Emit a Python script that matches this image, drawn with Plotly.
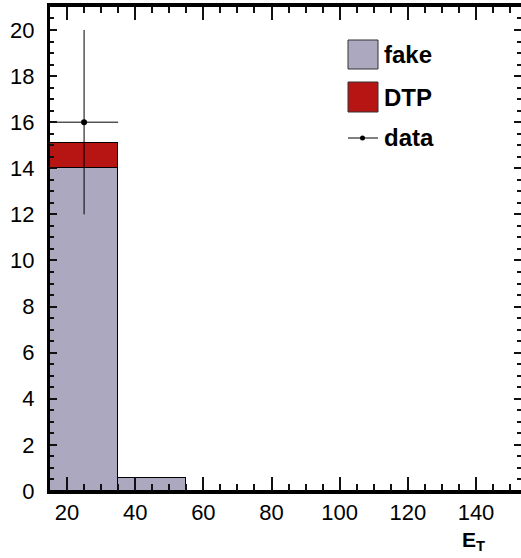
import plotly.graph_objects as go

# ---- data ----
bin_centers = [25, 45, 65, 85, 105, 125, 145]
bin_width = 20
fake_vals = [14.0, 0.55, 0, 0, 0, 0, 0]
dtp_vals = [1.1, 0, 0, 0, 0, 0, 0]
data_vals = [16, 0, 0, 0, 0, 0, 0]
data_err = [4, 0, 0, 0, 0, 0, 0]

FAKE_COLOR = "#aba8c0"
DTP_COLOR = "#b71414"
TICK_COLOR = "#111111"
FONT = "Liberation Sans, Arial, sans-serif"

fig = go.Figure()
fig.add_trace(go.Bar(x=bin_centers, y=fake_vals, width=[bin_width] * len(bin_centers),
                     marker=dict(color=FAKE_COLOR, line=dict(color="black", width=1.2)),
                     name="fake", showlegend=False))
fig.add_trace(go.Bar(x=bin_centers, y=dtp_vals, width=[bin_width] * len(bin_centers),
                     marker=dict(color=DTP_COLOR, line=dict(color="black", width=1.2)),
                     name="DTP", showlegend=False))

dx = [c for c, v in zip(bin_centers, data_vals) if v > 0]
dy = [v for v in data_vals if v > 0]
de = [e for e, v in zip(data_err, data_vals) if v > 0]
fig.add_trace(go.Scatter(x=dx, y=dy, mode="markers",
                         marker=dict(color="black", size=6),
                         error_y=dict(type="data", array=de, color="black", thickness=1, width=0),
                         error_x=dict(type="constant", value=bin_width / 2, color="black", thickness=1, width=0),
                         name="data", showlegend=False))

# ---- manual legend (paper coordinates) ----
L, T, W, H = 50, 6, 471, 485
def px(x):
    return (x - L) / W
def py(y):
    return 1 - (y - T) / H

fig.add_shape(type="rect", xref="paper", yref="paper", x0=px(348), x1=px(378), y0=py(69), y1=py(40),
              fillcolor=FAKE_COLOR, line=dict(color="#333333", width=1))
fig.add_shape(type="rect", xref="paper", yref="paper", x0=px(348), x1=px(378), y0=py(112), y1=py(82),
              fillcolor=DTP_COLOR, line=dict(color="#333333", width=1))
fig.add_shape(type="line", xref="paper", yref="paper", x0=px(348), x1=px(378), y0=py(138), y1=py(138),
              line=dict(color="black", width=1))
fig.add_shape(type="circle", xref="paper", yref="paper", x0=px(360), x1=px(365), y0=py(140.5), y1=py(135.5),
              fillcolor="black", line=dict(color="black", width=0))
for label, yc in [("fake", 55), ("DTP", 97), ("data", 138)]:
    fig.add_annotation(text="<b>" + label + "</b>", xref="paper", yref="paper", x=px(382), y=py(yc),
                       xanchor="left", yanchor="middle", showarrow=False,
                       font=dict(family=FONT, size=24, color="black"))

# top frame line
fig.add_shape(type="line", xref="paper", yref="paper", x0=0, x1=1, y0=1, y1=1,
              line=dict(color="black", width=2))

# x axis title
fig.add_annotation(text="<b>E<sub>T</sub></b>", xref="paper", yref="paper", x=px(460), y=py(526),
                   xanchor="left", yanchor="top", showarrow=False,
                   font=dict(family=FONT, size=21, color="black"))

fig.update_layout(
    width=521, height=558,
    margin=dict(l=L, r=0, t=T, b=558 - T - H, autoexpand=False),
    plot_bgcolor="white", paper_bgcolor="white",
    barmode="stack", bargap=0,
    font=dict(family=FONT, size=22, color="black"),
    showlegend=False,
)
fig.update_xaxes(range=[15, 153.2], tickmode="linear", tick0=0, dtick=20,
                 ticks="inside", ticklen=14, tickwidth=1.5, tickcolor=TICK_COLOR,
                 minor=dict(dtick=5, tick0=0, ticks="inside", ticklen=7, tickwidth=1.5,
                            tickcolor=TICK_COLOR, showgrid=False),
                 showline=True, linewidth=3, linecolor="black", mirror="ticks",
                 showgrid=False, zeroline=False, tickfont=dict(size=22), automargin=False,
                 layer="above traces")
fig.update_yaxes(range=[0, 21.04], tickmode="linear", tick0=0, dtick=2,
                 ticks="inside", ticklen=7, tickwidth=1.5, tickcolor=TICK_COLOR,
                 minor=dict(dtick=0.5, tick0=0, ticks="inside", ticklen=4, tickwidth=1.5,
                            tickcolor=TICK_COLOR, showgrid=False),
                 showline=True, linewidth=3, linecolor="black", mirror="ticks",
                 showgrid=False, zeroline=False, tickfont=dict(size=22), ticklabelstandoff=8,
                 automargin=False, layer="above traces")

fig.write_html("out.html", config={"displayModeBar": False},
               post_script="document.body.style.margin='0';document.body.style.overflow='hidden';")
